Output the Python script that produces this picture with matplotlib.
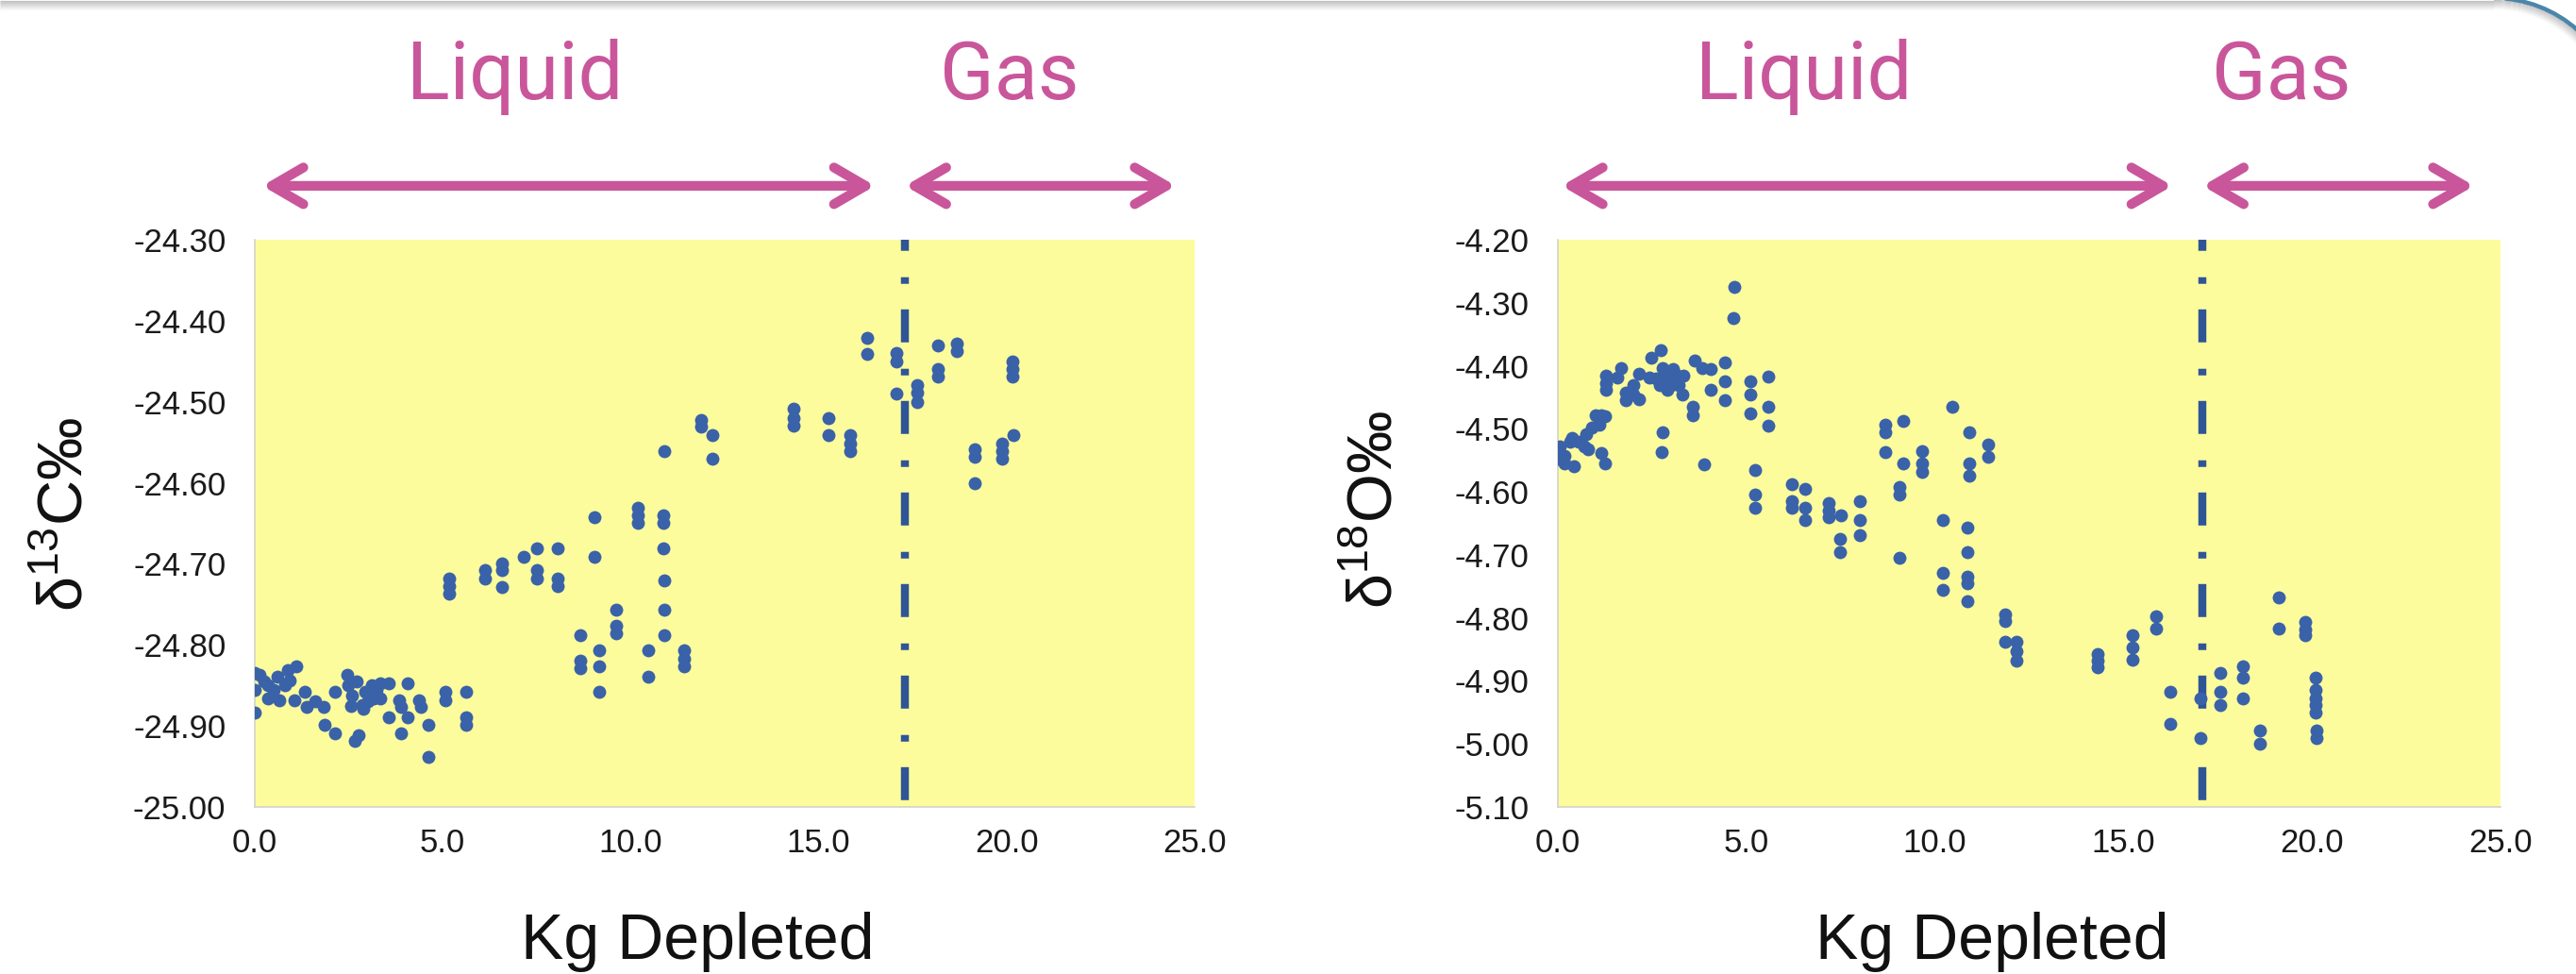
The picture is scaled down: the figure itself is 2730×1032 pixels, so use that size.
import numpy as np
import matplotlib
matplotlib.use("Agg")
import matplotlib.pyplot as plt
from matplotlib.patches import Arc
from matplotlib.transforms import blended_transform_factory

plt.rcParams['font.family'] = ['Liberation Sans', 'DejaVu Sans']
plt.rcParams['mathtext.fontset'] = 'custom'
plt.rcParams['mathtext.rm'] = 'Liberation Sans'
plt.rcParams['mathtext.it'] = 'Liberation Sans'
plt.rcParams['mathtext.bf'] = 'Liberation Sans'

# ---------------- data ----------------
c13_x = [0.0, 0.0, 0.0, 0.12, 0.25, 0.34, 0.34, 0.5, 0.61, 0.66, 0.8, 0.88, 0.92, 1.10, 1.06,
         1.33, 1.37, 1.60, 1.82, 1.86, 2.13, 2.13, 2.45, 2.49, 2.55, 2.58, 2.67, 2.7, 2.76, 2.85,
         2.89, 2.94, 3.0, 3.12, 3.16, 3.25, 3.34, 3.34, 3.57, 3.57, 3.84, 3.88, 3.88, 4.06, 4.06,
         4.37, 4.42, 4.62, 4.62, 5.07, 5.07, 5.61, 5.61, 5.61,
         5.18, 5.18, 5.18, 6.12, 6.12, 6.57, 6.57, 6.57, 7.15, 7.51, 7.51, 7.51, 8.05, 8.05, 8.05,
         8.67, 8.67, 8.67, 9.03, 9.03, 9.17, 9.17, 9.17, 9.62, 9.62, 9.62,
         10.18, 10.18, 10.18, 10.47, 10.47, 10.87, 10.87, 10.87, 10.9, 10.9, 10.9, 10.9,
         11.41, 11.41, 11.41, 11.87, 11.87, 12.17, 12.17,
         14.34, 14.34, 14.34, 15.26, 15.26, 15.85, 15.85, 15.85, 16.29, 16.29,
         17.08, 17.08, 17.08, 17.62, 17.62, 17.62, 18.18, 18.18, 18.18, 18.67, 18.67,
         19.16, 19.16, 19.16, 19.88, 19.88, 19.88, 20.19, 20.16, 20.16, 20.16]
c13_y = [-24.835, -24.856, -24.883, -24.837, -24.845, -24.850, -24.866, -24.855, -24.839, -24.868,
         -24.850, -24.831, -24.844, -24.827, -24.868,
         -24.858, -24.877, -24.870, -24.877, -24.899, -24.858, -24.909, -24.837, -24.850, -24.875,
         -24.862, -24.918, -24.845, -24.911, -24.874,
         -24.879, -24.858, -24.870, -24.850, -24.866, -24.855, -24.848, -24.866, -24.848, -24.889,
         -24.868, -24.877, -24.909, -24.848, -24.889,
         -24.868, -24.877, -24.899, -24.938, -24.858, -24.868, -24.858, -24.889, -24.899,
         -24.718, -24.728, -24.737, -24.708, -24.718, -24.699, -24.708, -24.729, -24.691,
         -24.681, -24.708, -24.718, -24.681, -24.718, -24.728,
         -24.788, -24.819, -24.829, -24.642, -24.691, -24.807, -24.827, -24.858, -24.757, -24.776, -24.786,
         -24.631, -24.640, -24.650, -24.807, -24.839, -24.640, -24.650, -24.681, -24.561, -24.720,
         -24.757, -24.788,
         -24.807, -24.817, -24.827, -24.522, -24.531, -24.541, -24.570,
         -24.508, -24.520, -24.529, -24.520, -24.541, -24.541, -24.551, -24.561, -24.421, -24.441,
         -24.440, -24.450, -24.490, -24.479, -24.489, -24.500, -24.430, -24.460, -24.469, -24.428, -24.438,
         -24.559, -24.568, -24.600, -24.551, -24.561, -24.570, -24.541, -24.450, -24.460, -24.469]

o18_x = [4.68, 4.66, 2.72, 2.48, 1.67, 1.28, 1.28, 1.28, 1.57, 1.81, 1.81, 2.0, 2.0, 2.15, 2.15,
         2.43, 2.77, 2.85, 2.91, 2.91, 3.05, 3.10, 3.34, 3.30, 3.63, 3.82, 4.06, 4.06, 4.44, 4.44,
         4.44, 3.58, 3.58, 5.11, 5.11, 5.11, 5.59, 5.59, 5.59, 2.77, 2.75, 3.87,
         2.6, 2.7, 3.0, 2.8, 3.2,
         1.0, 1.14, 1.24, 1.09, 0.9, 0.76, 0.56, 0.37, 0.33, 0.04, 0.0, 0.0, 0.18, 0.18, 0.42,
         0.71, 0.8, 1.14, 1.24,
         5.24, 5.24, 5.24, 6.2, 6.2, 6.2, 6.55, 6.55, 6.55, 7.17, 7.17, 7.17, 7.51, 7.48, 7.48,
         8.02, 8.02, 8.02, 8.69, 8.69, 8.69, 9.17, 9.17, 9.07, 9.07, 9.07, 9.66, 9.66, 9.66,
         10.45, 10.91, 10.91, 10.91, 11.41, 11.41, 10.22, 10.22, 10.22, 10.86, 10.86, 10.86,
         10.86, 10.86,
         11.87, 11.87, 11.87, 12.16, 12.16, 12.16,
         14.32, 14.32, 14.32, 15.24, 15.24, 15.24, 15.87, 15.87, 16.24, 16.24, 17.03, 17.05,
         17.58, 17.58, 17.58, 18.16, 18.16, 18.16, 18.62, 18.62, 19.11, 19.11, 19.82, 19.82, 19.82,
         20.1, 20.1, 20.1, 20.1, 20.1, 20.13, 20.13]
o18_y = [-4.275, -4.325, -4.375, -4.387, -4.403, -4.415, -4.428, -4.438, -4.418, -4.443, -4.455,
         -4.430, -4.445, -4.413, -4.453,
         -4.418, -4.403, -4.413, -4.425, -4.438, -4.405, -4.413, -4.415, -4.445, -4.392, -4.403,
         -4.405, -4.438, -4.395, -4.425,
         -4.455, -4.465, -4.478, -4.425, -4.445, -4.475, -4.417, -4.465, -4.495, -4.505, -4.537, -4.557,
         -4.420, -4.430, -4.430, -4.420, -4.430,
         -4.478, -4.478, -4.480, -4.493, -4.498, -4.508, -4.520, -4.515, -4.520, -4.528, -4.543,
         -4.548, -4.543, -4.555, -4.560,
         -4.528, -4.533, -4.538, -4.555,
         -4.565, -4.605, -4.625, -4.588, -4.615, -4.625, -4.595, -4.625, -4.645, -4.618, -4.630,
         -4.640, -4.638, -4.675, -4.695,
         -4.615, -4.645, -4.668, -4.493, -4.505, -4.537, -4.487, -4.555, -4.593, -4.605, -4.705,
         -4.535, -4.555, -4.568,
         -4.465, -4.505, -4.555, -4.575, -4.525, -4.545, -4.645, -4.728, -4.755, -4.657, -4.695,
         -4.735, -4.745, -4.773,
         -4.795, -4.805, -4.838, -4.838, -4.853, -4.868,
         -4.858, -4.868, -4.878, -4.827, -4.847, -4.867, -4.797, -4.817, -4.918, -4.968, -4.928,
         -4.990,
         -4.888, -4.918, -4.938, -4.877, -4.895, -4.928, -4.978, -5.000, -4.767, -4.817, -4.807,
         -4.818, -4.828,
         -4.895, -4.915, -4.928, -4.938, -4.950, -4.978, -4.990]

x_ticks = [0, 5, 10, 15, 20, 25]
c13_ticks = [-25.0, -24.9, -24.8, -24.7, -24.6, -24.5, -24.4, -24.3]
o18_ticks = [-5.1, -5.0, -4.9, -4.8, -4.7, -4.6, -4.5, -4.4, -4.3, -4.2]

phase_split_c13 = 17.3
phase_split_o18 = 17.1
liquid_span_c13 = (0.2, 16.5)
gas_span_c13 = (17.3, 24.5)
liquid_span_o18 = (0.1, 16.3)
gas_span_o18 = (17.1, 24.3)
liquid_label_x = (6.93, 6.53)
gas_label_x = (20.07, 19.2)

# ---------------- figure ----------------
W, H = 2730, 1032
fig = plt.figure(figsize=(W / 100, H / 100), dpi=100)
fig.patch.set_facecolor('white')


def fx(px):
    return px / W


def fy(py):
    return 1 - py / H


# decorative slide frame (overlay in pixel coordinates)
ov = fig.add_axes([0, 0, 1, 1], zorder=0)
ov.set_xlim(0, W)
ov.set_ylim(H, 0)
ov.axis('off')
cx, cy, R = 2643, 131, 131
for d in range(0, 11):
    g = 0.76 + 0.024 * d
    col = (g, g, g)
    ov.plot([0, cx], [d + 0.5, d + 0.5], color=col, lw=0.9, solid_capstyle='butt')
    ov.add_patch(Arc((cx, cy), 2 * (R - d - 0.5), 2 * (R - d - 0.5), theta1=270, theta2=360,
                     color=col, lw=0.9))
ov.add_patch(Arc((cx, cy), 2 * (R + 2), 2 * (R + 2), theta1=275, theta2=360,
                 color='#4A86AA', lw=3.2))

MARK = '#3A62A8'
YEL = '#FDFC9C'
PINK = '#C9569B'
VLINE = '#2F5597'
vlw = 6.1
vstyle = (10.6, (4.13, 3.19, 0.83, 3.3))


def setup(ax, xs, ys, ticks, fmt, split, liq, gas, lx, gx):
    ax.set_facecolor(YEL)
    ax.scatter(xs, ys, s=100, color=MARK, linewidths=0, zorder=3)
    ax.axvline(split, color=VLINE, lw=vlw, linestyle=vstyle, zorder=2)
    ax.set_xlim(0, 25)
    ax.set_ylim(ticks[0], ticks[-1])
    ax.set_xticks(x_ticks)
    ax.set_xticklabels([f'{t:.1f}' for t in x_ticks])
    ax.set_yticks(ticks)
    ax.set_yticklabels([fmt.format(t) for t in ticks])
    ax.tick_params(axis='both', length=0, labelsize=25, colors='#1a1a1a')
    ax.tick_params(axis='y', pad=22)
    ax.tick_params(axis='x', pad=16)
    for s in ['top', 'right']:
        ax.spines[s].set_visible(False)
    for s in ['left', 'bottom']:
        ax.spines[s].set_color('#D3D3C8')
        ax.spines[s].set_linewidth(1.2)
    tr = blended_transform_factory(ax.transData, ax.transAxes)
    for a, b in (liq, gas):
        ax.annotate('', xy=(b, 1.095), xytext=(a, 1.095), xycoords=tr, textcoords=tr,
                    annotation_clip=False,
                    arrowprops=dict(arrowstyle='<->,head_length=24,head_width=14',
                                    mutation_scale=1, color=PINK, lw=7.4,
                                    shrinkA=0, shrinkB=0, capstyle='round',
                                    joinstyle='round'))
    ax.text(lx, 1.248, 'Liquid', transform=tr, ha='center', va='baseline',
            fontsize=61, color=PINK, family=['Roboto', 'DejaVu Sans'], clip_on=False)
    ax.text(gx, 1.248, 'Gas', transform=tr, ha='center', va='baseline',
            fontsize=61, color=PINK, family=['Roboto', 'DejaVu Sans'], clip_on=False)


axL = fig.add_axes([fx(270), fy(855), fx(1266) - fx(270), fy(254) - fy(855)], zorder=1)
axR = fig.add_axes([fx(1651), fy(855), fx(2650) - fx(1651), fy(254) - fy(855)], zorder=1)

setup(axL, c13_x, c13_y, c13_ticks, '{:.2f}', phase_split_c13, liquid_span_c13, gas_span_c13,
      liquid_label_x[0], gas_label_x[0])
setup(axR, o18_x, o18_y, o18_ticks, '{:.2f}', phase_split_o18, liquid_span_o18, gas_span_o18,
      liquid_label_x[1], gas_label_x[1])

fig.text(fx(739), fy(1016), 'Kg Depleted', ha='center', va='baseline', fontsize=49, color='#111111')
fig.text(fx(2111), fy(1016), 'Kg Depleted', ha='center', va='baseline', fontsize=49, color='#111111')
fig.text(fx(71), fy(545), r'δ$^{13}$C‰', rotation=90, ha='center', va='center', fontsize=48,
         color='#111111')
fig.text(fx(1458), fy(540), r'δ$^{18}$O‰', rotation=90, ha='center', va='center', fontsize=48,
         color='#111111')

fig.savefig('out.png', dpi=100, facecolor='white')
